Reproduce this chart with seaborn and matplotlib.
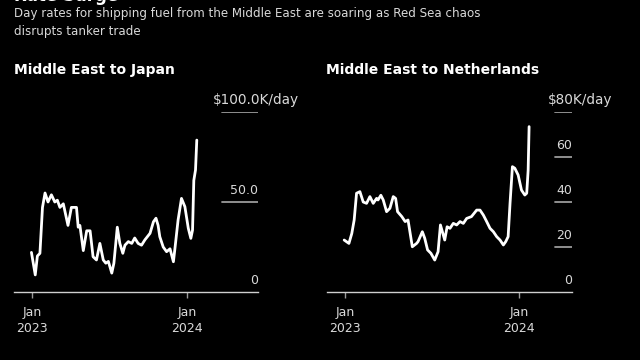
import matplotlib
matplotlib.use("Agg")
import matplotlib.pyplot as plt
import matplotlib.transforms as mtransforms
import seaborn as sns
import pandas as pd

# ---------------- data ----------------
japan_dates = ["2022-12-31", "2023-01-09", "2023-01-14", "2023-01-20", "2023-01-26",
               "2023-02-01", "2023-02-08", "2023-02-16", "2023-02-24", "2023-03-02",
               "2023-03-08", "2023-03-16", "2023-03-27", "2023-04-04", "2023-04-16",
               "2023-04-20", "2023-04-24", "2023-05-02", "2023-05-10", "2023-05-18",
               "2023-05-25", "2023-06-02", "2023-06-10", "2023-06-18", "2023-06-24",
               "2023-06-30", "2023-07-08", "2023-07-13", "2023-07-21", "2023-07-27",
               "2023-08-03", "2023-08-08", "2023-08-16", "2023-08-24", "2023-08-31",
               "2023-09-08", "2023-09-16", "2023-09-24", "2023-10-06", "2023-10-14",
               "2023-10-20", "2023-10-25", "2023-10-29", "2023-11-06", "2023-11-14",
               "2023-11-22", "2023-11-30", "2023-12-04", "2023-12-11", "2023-12-19",
               "2023-12-27", "2024-01-04", "2024-01-10", "2024-01-14", "2024-01-17",
               "2024-01-21", "2024-01-24"]
japan_values = [22, 9.5, 20, 21.5, 47, 55, 50, 54, 50, 51,
                47, 49, 37, 47, 47, 36, 37, 23, 34, 34,
                19.6, 17.8, 27, 17.8, 16, 17, 10.5, 16, 36, 27,
                21.5, 26, 28, 27, 30, 27, 26, 29, 32.6, 39,
                41, 37, 30.7, 25, 22.4, 24, 16.8, 25, 40, 52,
                47.4, 35.4, 29.8, 34.4, 62, 67.8, 84.4]

neth_dates = ["2022-12-30", "2023-01-09", "2023-01-15", "2023-01-20", "2023-01-25",
              "2023-02-01", "2023-02-08", "2023-02-15", "2023-02-22", "2023-03-01",
              "2023-03-08", "2023-03-11", "2023-03-17", "2023-03-22", "2023-03-29",
              "2023-04-05", "2023-04-12", "2023-04-17", "2023-04-21", "2023-04-30",
              "2023-05-07", "2023-05-13", "2023-05-22", "2023-05-31", "2023-06-03",
              "2023-06-12", "2023-06-17", "2023-06-23", "2023-06-30", "2023-07-08",
              "2023-07-15", "2023-07-20", "2023-07-29", "2023-08-03", "2023-08-09",
              "2023-08-16", "2023-08-23", "2023-08-30", "2023-09-06", "2023-09-13",
              "2023-09-23", "2023-10-04", "2023-10-11", "2023-10-18", "2023-10-25",
              "2023-11-01", "2023-11-08", "2023-11-15", "2023-11-22", "2023-11-29",
              "2023-12-04", "2023-12-09", "2023-12-13", "2023-12-18", "2023-12-23",
              "2023-12-30", "2024-01-06", "2024-01-13", "2024-01-17", "2024-01-20",
              "2024-01-22"]
neth_values = [23.1, 21.6, 26, 32, 43.9, 44.6, 40, 39.4, 42.4, 39.4,
               41.6, 40.9, 43, 40.9, 35.7, 37.2, 42.4, 41.6, 35.7, 33.5,
               31.3, 32, 20.1, 21.6, 22.4, 26.8, 23.9, 18.7, 17.2, 14.2,
               17.9, 29.8, 23.1, 29, 28.3, 30.5, 29.8, 31.3, 30.5, 32.7,
               33.5, 36.4, 36.4, 34.2, 31.3, 28.3, 26.8, 24.6, 23.1, 20.9,
               22.4, 24.6, 39.4, 55.7, 55, 52, 45.3, 43.1, 43.9, 54.2,
               73.5]

title = "Rate Surge"
subtitle = ("Day rates for shipping fuel from the Middle East are soaring as Red Sea chaos\n"
            "disrupts tanker trade")
panel_titles = ["Middle East to Japan", "Middle East to Netherlands"]
japan_ticks = [0, 50, 100]
japan_tick_labels = ["0", "50.0", "$100.0K/day"]
neth_ticks = [0, 20, 40, 60, 80]
neth_tick_labels = ["0", "20", "40", "60", "$80K/day"]
x_tick_dates = ["2023-01-01", "2024-01-01"]
x_tick_labels = ["Jan\n2023", "Jan\n2024"]

# ---------------- style ----------------
sns.set_style("dark")
plt.rcParams["font.family"] = ["DejaVu Sans"]
BG = "#000000"
LINE = "#ffffff"
TXT = "#d9d9d9"
GRID = "#9a9a9a"

fig = plt.figure(figsize=(6.4, 3.6), dpi=100, facecolor=BG)

W, H = 640.0, 360.0
def ax_rect(x0, x1, ytop, ybot):
    return [x0 / W, 1 - ybot / H, (x1 - x0) / W, (ybot - ytop) / H]

ax1 = fig.add_axes(ax_rect(14, 258, 112, 292))
ax2 = fig.add_axes(ax_rect(327, 572, 112, 292))

df1 = pd.DataFrame({"date": pd.to_datetime(japan_dates), "rate": japan_values})
df2 = pd.DataFrame({"date": pd.to_datetime(neth_dates), "rate": neth_values})

configs = [
    (ax1, df1, japan_ticks, japan_tick_labels, 100, ("2022-11-20", "2024-06-16"),
     (222 - 14) / 244.0, (213 - 14) / 244.0, panel_titles[0], 14),
    (ax2, df2, neth_ticks, neth_tick_labels, 80, ("2022-11-24", "2024-04-21"),
     (555 - 327) / 245.0, (548 - 327) / 245.0, panel_titles[1], 326),
]

for ax, df, ticks, tlabels, ymax, xlim, gx0, toplab_x, ptitle, ptx in configs:
    ax.set_facecolor(BG)
    sns.lineplot(data=df, x="date", y="rate", ax=ax, color=LINE, linewidth=2.0)
    ax.set_ylim(0, ymax)
    ax.set_xlim(pd.Timestamp(xlim[0]), pd.Timestamp(xlim[1]))
    ax.set_xlabel("")
    ax.set_ylabel("")
    ax.grid(False)
    for s in ["top", "right", "left"]:
        ax.spines[s].set_visible(False)
    ax.spines["bottom"].set_visible(True)
    ax.spines["bottom"].set_color("#cfcfcf")
    ax.spines["bottom"].set_linewidth(1.0)
    ax.set_yticks([])
    ax.set_xticks(pd.to_datetime(x_tick_dates))
    ax.set_xticklabels(x_tick_labels, color=TXT, fontsize=9, linespacing=1.35)
    ax.tick_params(axis="x", length=4, width=1, color="#9a9a9a", pad=6, bottom=True)
    trans = mtransforms.blended_transform_factory(ax.transAxes, ax.transData)
    trans_off = mtransforms.offset_copy(trans, fig=fig, x=0, y=5, units="dots")
    for v, lab in zip(ticks, tlabels):
        if v > 0:
            ax.axhline(v, xmin=gx0, xmax=1.0, color=GRID, linewidth=1.3)
        if lab.startswith("$"):
            ax.text(toplab_x, v, lab, transform=trans_off, ha="left", va="bottom",
                    color=TXT, fontsize=9.8)
        else:
            ax.text(1.0, v, lab, transform=trans_off, ha="right", va="bottom",
                    color=TXT, fontsize=9)
    fig.text(ptx / W, 1 - 74 / H, ptitle, color="#ffffff", fontsize=10,
             fontweight="bold", ha="left", va="baseline")

fig.text(14 / W, 1 - 1 / H, title, color="#ffffff", fontsize=12, fontweight="bold",
         ha="left", va="baseline")
fig.text(14 / W, 1 - 7 / H, subtitle, color=TXT, fontsize=8.6, ha="left", va="top",
         linespacing=1.45)

fig.savefig("out.png", dpi=100, facecolor=BG)
